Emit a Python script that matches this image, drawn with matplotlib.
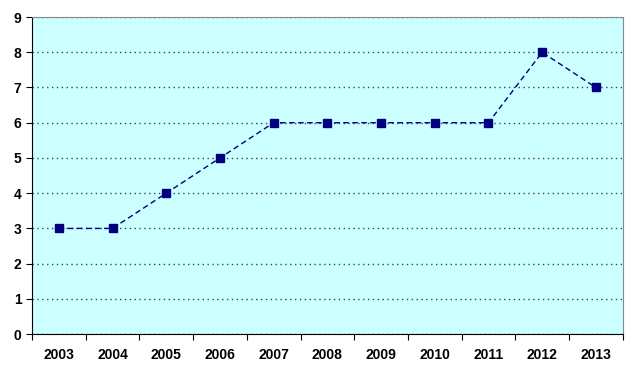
import numpy as np
import matplotlib.pyplot as plt

years = ['2003', '2004', '2005', '2006', '2007', '2008', '2009', '2010', '2011', '2012', '2013']
values = [3, 3, 4, 5, 6, 6, 6, 6, 6, 8, 7]

plt.rcParams['font.family'] = ['Liberation Sans', 'DejaVu Sans']

fig = plt.figure(figsize=(6.4, 3.7), dpi=100)
ax = fig.add_axes([0.05, 0.097, 0.923, 0.857])
ax.set_facecolor('#CCFFFF')

x = np.arange(len(years))
ax.plot(x, values, color='#000080', linestyle=(0, (4, 2.5)), linewidth=1,
        marker='s', markersize=6, markerfacecolor='#000080', markeredgecolor='#000080')

ax.set_xlim(-0.5, len(years) - 0.5)
ax.set_ylim(0, 9)
ax.set_yticks(range(10))
ax.yaxis.grid(True, color='#444444', linestyle=(0, (1, 2.5)), linewidth=1)
ax.set_axisbelow(True)

# tick marks between categories, labels centered
ax.set_xticks(np.arange(-0.5, len(years), 1))
ax.set_xticklabels([])
ax.set_xticks(x, minor=True)
ax.set_xticklabels(years, minor=True, fontweight='bold', fontsize=10)
ax.tick_params(axis='x', which='minor', length=0, pad=10)
ax.tick_params(axis='x', which='major', length=4, direction='out')
ax.tick_params(axis='y', length=4, direction='out', labelsize=10)
for lbl in ax.get_yticklabels():
    lbl.set_fontweight('bold')

ax.spines['left'].set_color('black')
ax.spines['bottom'].set_color('black')
ax.spines['top'].set_color('#888888')
ax.spines['right'].set_color('#888888')

fig.savefig('out.png', dpi=100, facecolor='white')
